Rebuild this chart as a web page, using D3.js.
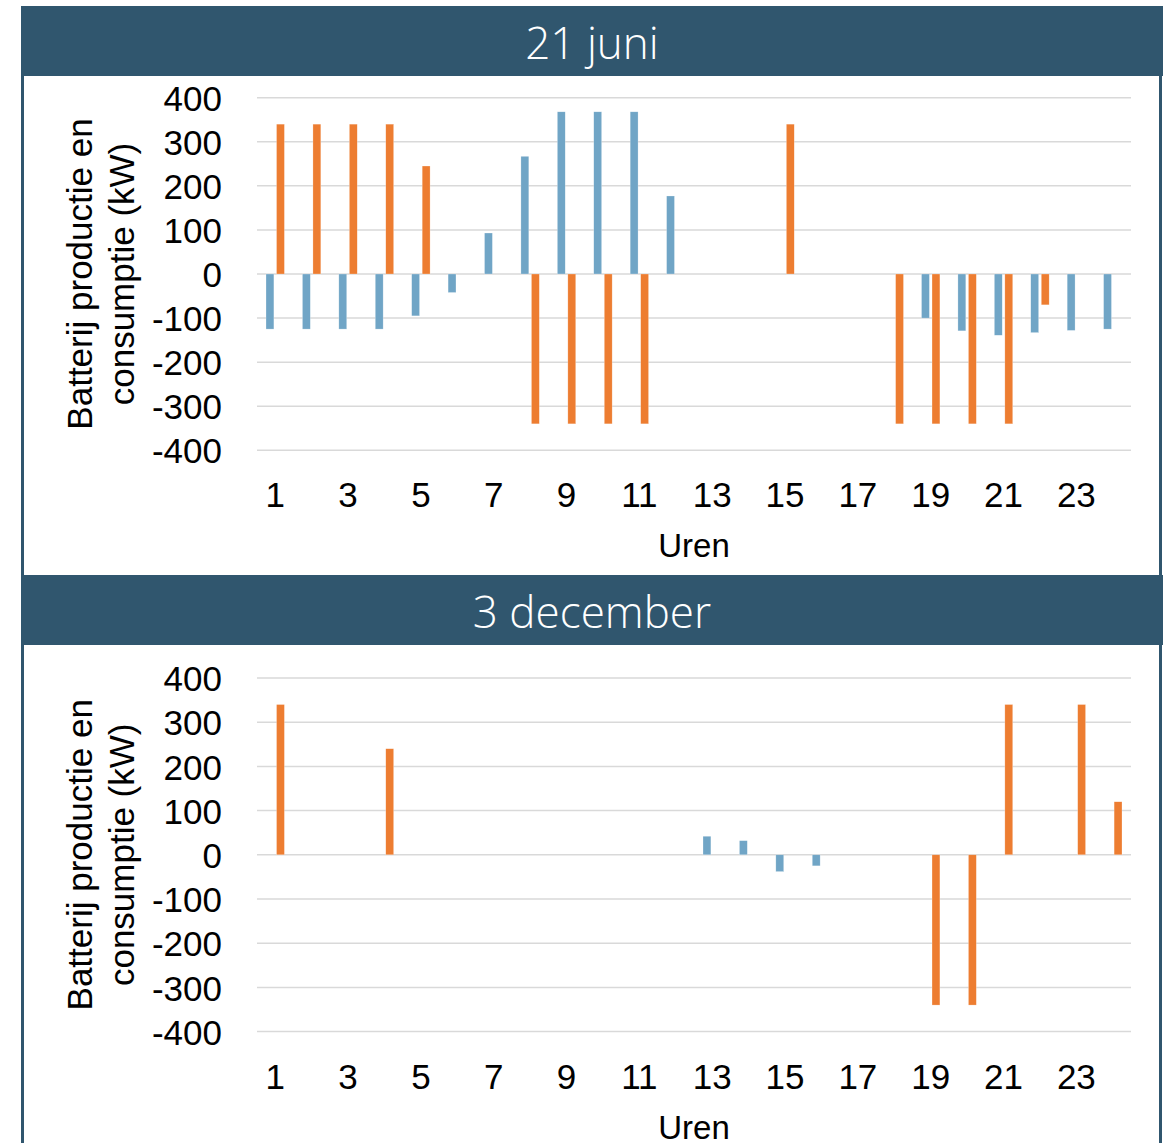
<!DOCTYPE html>
<html>
<head>
<meta charset="utf-8">
<script src="https://cdn.jsdelivr.net/npm/d3@7"></script>
<style>
  body { margin: 0; background: #fff; }
  svg { display: block; }
</style>
</head>
<body>
<svg id="chart" width="1170" height="1143"></svg>
<script>
// Hours of the day (categories) and the odd hours that carry a label
const hours = d3.range(1, 25);
const hourTicks = [1, 3, 5, 7, 9, 11, 13, 15, 17, 19, 21, 23];
const valueTicks = [-400, -300, -200, -100, 0, 100, 200, 300, 400];

// 21 juni (kW)
const juniProductie = [-125, -125, -125, -125, -95, -42, 93, 267, 368, 368, 368, 177,
                       0, 0, 0, 0, 0, 0, -100, -129, -139, -133, -128, -125];
const juniBatterij  = [340, 340, 340, 340, 245, 0, 0, -340, -340, -340, -340, 0,
                       0, 0, 340, 0, 0, -340, -340, -340, -340, -70, 0, 0];

// 3 december (kW)
const decProductie = [0, 0, 0, 0, 0, 0, 0, 0, 0, 0, 0, 0,
                      42, 32, -38, -25, 0, 0, 0, 0, 0, 0, 0, 0];
const decBatterij  = [340, 0, 0, 240, 0, 0, 0, 0, 0, 0, 0, 0,
                      0, 0, 0, 0, 0, 0, -340, -340, 340, 0, 340, 120];

const seriesNames = ["productie", "batterij"];
const colors = { productie: "#70A5C6", batterij: "#ED7D31" };
const frameColor = "#30566E";
const tickFont = "'Liberation Sans', Arial, sans-serif";

const svg = d3.select("#chart");

// Outer frame
const frameLeft = 21, frameRight = 1163;

const x = d3.scaleBand().domain(hours).range([257, 1131]).padding(0);

function drawPanel(opt) {
  const g = svg.append("g");

  // header band with title
  g.append("rect")
    .attr("x", frameLeft).attr("y", opt.headerTop)
    .attr("width", frameRight - frameLeft).attr("height", 70)
    .attr("fill", frameColor);
  g.append("text")
    .attr("x", (frameLeft + frameRight) / 2).attr("y", opt.headerTop + 53)
    .attr("text-anchor", "middle")
    .attr("font-family", "'Open Sans', sans-serif")
    .attr("font-size", 44)
    .attr("font-weight", 300)
    .attr("fill", "#fff")
    .text(opt.title);

  // side borders of the panel body
  [frameLeft + 1.5, frameRight - 2.5].forEach(bx => {
    g.append("line")
      .attr("x1", bx).attr("x2", bx)
      .attr("y1", opt.headerTop + 70).attr("y2", opt.bodyBottom)
      .attr("stroke", frameColor).attr("stroke-width", 3);
  });

  const y = d3.scaleLinear().domain([-400, 400]).range([opt.plotBottom, opt.plotTop]);

  // gridlines
  g.append("g").selectAll("line").data(valueTicks).join("line")
    .attr("x1", x.range()[0]).attr("x2", x.range()[1])
    .attr("y1", d => y(d)).attr("y2", d => y(d))
    .attr("stroke", "#D9D9D9").attr("stroke-width", 1.5);

  // value axis labels (plain hyphen for negatives)
  const yAxis = d3.axisLeft(y).tickValues(valueTicks).tickFormat(d => String(d))
    .tickSize(0).tickPadding(0);
  const ya = g.append("g").attr("transform", "translate(222,0)").call(yAxis);
  ya.select(".domain").remove();
  ya.selectAll("text")
    .attr("font-family", tickFont).attr("font-size", 35).attr("fill", "#000")
    .attr("dy", "0.36em");

  // hour axis labels
  const xAxis = d3.axisBottom(x).tickValues(hourTicks).tickSize(0).tickPadding(0);
  const xa = g.append("g").attr("transform", `translate(0,${opt.hourBaseline})`).call(xAxis);
  xa.select(".domain").remove();
  xa.selectAll("text")
    .attr("font-family", tickFont).attr("font-size", 35).attr("fill", "#000")
    .attr("dy", 0).attr("y", 0);

  // axis titles
  g.append("text")
    .attr("x", (x.range()[0] + x.range()[1]) / 2).attr("y", opt.hourBaseline + 50)
    .attr("text-anchor", "middle")
    .attr("font-family", tickFont).attr("font-size", 33).attr("fill", "#000")
    .text("Uren");
  const yc = y(0);
  [["Batterij productie en", 92], ["consumptie (kW)", 134]].forEach(([t, bx]) => {
    g.append("text")
      .attr("transform", `translate(${bx},${yc}) rotate(-90)`)
      .attr("text-anchor", "middle")
      .attr("font-family", tickFont).attr("font-size", 35).attr("fill", "#000")
      .text(t);
  });

  // clustered bars: productie left of the hour centre, batterij right of it
  const half = 9.2;
  const sub = d3.scaleBand().domain(seriesNames).range([-half, half]).paddingInner(0.25);
  const rows = hours.map((h, i) => ({ hour: h, productie: opt.productie[i], batterij: opt.batterij[i] }));
  seriesNames.forEach(s => {
    g.append("g").selectAll("rect")
      .data(rows.filter(r => r[s] !== 0))
      .join("rect")
      .attr("x", r => x(r.hour) + x.bandwidth() / 2 + sub(s))
      .attr("width", sub.bandwidth())
      .attr("y", r => y(Math.max(0, r[s])))
      .attr("height", r => Math.abs(y(r[s]) - y(0)))
      .attr("fill", colors[s])
      .attr("stroke", "#fff").attr("stroke-opacity", 0.5).attr("stroke-width", 0.5);
  });
}

drawPanel({
  title: "21 juni", headerTop: 6, bodyBottom: 575,
  plotTop: 97.7, plotBottom: 450.3, hourBaseline: 507,
  productie: juniProductie, batterij: juniBatterij
});
drawPanel({
  title: "3 december", headerTop: 575, bodyBottom: 1143,
  plotTop: 678, plotBottom: 1031.6, hourBaseline: 1088.5,
  productie: decProductie, batterij: decBatterij
});
</script>
</body>
</html>
